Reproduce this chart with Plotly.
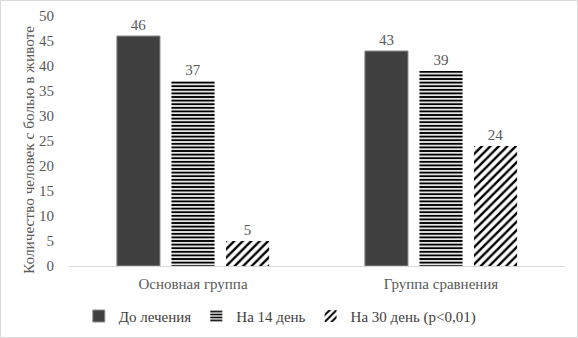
import plotly.graph_objects as go

categories = ["Основная группа", "Группа сравнения"]
series_names = ["До лечения", "На 14 день", "На 30 день (p<0,01)"]
before = [46, 43]
day14 = [37, 39]
day30 = [5, 24]
y_ticks = list(range(0, 51, 5))
y_title = "Количество человек с болью в животе"

W, H = 578, 338
L, R, T, B = 69, 13, 16, 72
pw, ph = W - L - R, H - T - B

font_family = '"Liberation Serif", "Times New Roman", serif'
txt = "#595959"
fs = 15

fig = go.Figure()
fig.add_trace(go.Bar(
    x=categories, y=before, name=series_names[0],
    marker=dict(color="#404040", line=dict(color="#8c8c8c", width=1)),
    text=before, textposition="outside", cliponaxis=False,
    textfont=dict(color=txt, size=fs, family=font_family)))
fig.add_trace(go.Bar(
    x=categories, y=day14, name=series_names[1],
    marker=dict(color="white", line=dict(width=0),
                pattern=dict(shape="-", fgcolor="black", bgcolor="white",
                             size=3.6, solidity=0.55, fillmode="replace")),
    text=day14, textposition="outside", cliponaxis=False,
    textfont=dict(color=txt, size=fs, family=font_family)))
fig.add_trace(go.Bar(
    x=categories, y=day30, name=series_names[2],
    marker=dict(color="white", line=dict(width=0),
                pattern=dict(shape="/", fgcolor="black", bgcolor="white",
                             size=6, solidity=0.4, fillmode="replace")),
    text=day30, textposition="outside", cliponaxis=False,
    textfont=dict(color=txt, size=fs, family=font_family)))

fig.update_layout(
    width=W, height=H,
    margin=dict(l=L, r=R, t=T, b=B, autoexpand=False),
    paper_bgcolor="white", plot_bgcolor="white",
    barmode="group", bargap=0.34, bargroupgap=0.21,
    font=dict(family=font_family, color=txt, size=fs),
    showlegend=True,
    legend=dict(orientation="h", x=0.425, xanchor="center", y=-0.135, yanchor="top",
                font=dict(size=fs, color="#404040", family=font_family),
                itemwidth=30, tracegroupgap=0),
    xaxis=dict(showgrid=False, showline=True, linecolor="#d9d9d9", linewidth=1,
               automargin=False,
               ticks="", tickfont=dict(size=fs, color=txt, family=font_family),
               ticklabelstandoff=4),
    yaxis=dict(range=[0, 50], tickvals=y_ticks, showgrid=False, zeroline=False,
               automargin=False,
               showline=False, ticks="", tickfont=dict(size=fs, color=txt, family=font_family),
               ticklabelstandoff=14),
    annotations=[dict(text=y_title, textangle=-90, showarrow=False,
                      xref="paper", yref="paper",
                      x=(28 - L) / pw, y=(H - B - 150) / ph,
                      xanchor="center", yanchor="middle",
                      font=dict(size=15.3, color=txt, family=font_family))],
    shapes=[dict(type="rect", xref="paper", yref="paper",
                 x0=(0.5 - L) / pw, x1=(W - L - 0.5) / pw,
                 y0=-(B - 0.5) / ph, y1=(ph + T - 0.5) / ph,
                 line=dict(color="#d9d9d9", width=1), layer="below")],
)

fig.write_html("out.html", config={"displayModeBar": False},
               post_script="document.body.style.margin='0';document.body.style.overflow='hidden';")
